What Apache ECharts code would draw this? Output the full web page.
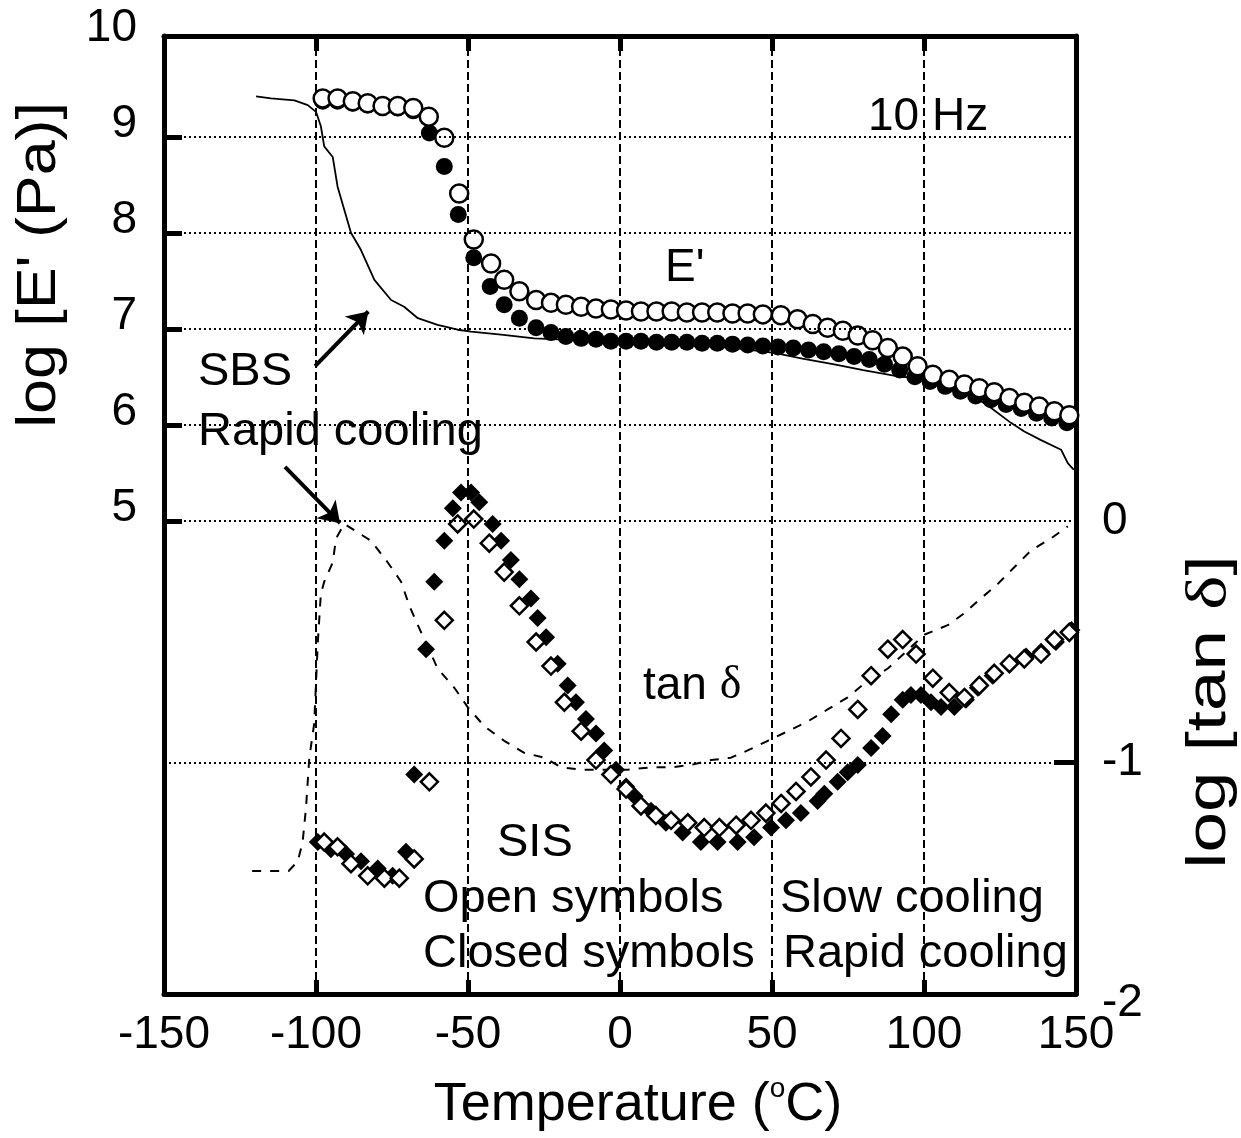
<!DOCTYPE html>
<html><head><meta charset="utf-8">
<script src="https://cdn.jsdelivr.net/npm/echarts@6/dist/echarts.min.js"></script>
<style>html,body{margin:0;padding:0;background:#fff}#c{width:1241px;height:1138px}</style>
</head><body><div id="c"></div>
<script>
const FONT = '"Liberation Sans", Arial, Helvetica, sans-serif';
const SERIF = '"Liberation Serif", "Times New Roman", serif';

// ---------- data (temperature in °C) ----------
// SIS slow cooling, log E' (open circles)
const eSlowT = [-97.8,-92.9,-87.9,-83.0,-78.1,-73.1,-68.0,-62.9,-57.8,-52.9,-48.1,-42.4,-38.1,-33.1,-27.6,-22.7,-17.8,-12.8,-7.9,-3.0,2.0,6.9,12,17,22,27,32,37,42,47,52.9,58.4,63.4,68.3,73.3,78.2,83.1,88.1,93.0,97.9,102.9,108.3,113.3,118.2,123.1,128.1,133.0,137.9,142.9,147.8];
const eSlowV = [9.40,9.40,9.37,9.35,9.32,9.32,9.30,9.21,8.99,8.41,7.93,7.68,7.51,7.39,7.30,7.27,7.25,7.23,7.21,7.20,7.19,7.18,7.18,7.18,7.17,7.17,7.17,7.16,7.16,7.15,7.14,7.10,7.05,7.01,6.98,6.93,6.88,6.80,6.71,6.61,6.52,6.47,6.42,6.38,6.34,6.28,6.23,6.19,6.14,6.10];
// SIS rapid cooling, log E' (closed circles)
const eRapidT = [-97.8,-92.9,-87.9,-83.0,-78.1,-73.1,-68.0,-62.7,-57.8,-53.2,-48.1,-42.7,-38.1,-33.1,-27.6,-22.7,-17.8,-12.8,-7.9,-3.0,2.0,6.9,12,17,22,27,32,37,42,47,52,57,62,67,72,77,82,87,92,97,102,107,112,117,122,127,132,137,142,147];
const eRapidV = [9.37,9.37,9.35,9.33,9.31,9.30,9.27,9.04,8.69,8.19,7.74,7.44,7.25,7.11,7.01,6.96,6.92,6.90,6.89,6.87,6.87,6.87,6.86,6.86,6.86,6.85,6.85,6.84,6.83,6.82,6.81,6.80,6.78,6.76,6.74,6.71,6.68,6.63,6.57,6.50,6.45,6.40,6.35,6.30,6.26,6.21,6.17,6.12,6.07,6.02];
// SBS rapid cooling, log E' (solid line)
const sbsET = [-119.7,-114.8,-107.1,-102.7,-100.0,-98.4,-97.3,-94.5,-92.9,-90.7,-88.5,-85.2,-80.8,-75.3,-71.0,-66.5,-60.0,-53.4,-49.0,-39.1,-28.2,-20,-10,0,10,20,30,40,50.8,60,70.5,80,92.4,100.1,107,114.4,121,128.6,133,138.5,145.1,147.3,149.3];
const sbsEV = [9.42,9.40,9.38,9.33,9.26,9.11,8.90,8.79,8.48,8.24,8.00,7.82,7.51,7.30,7.23,7.11,7.04,6.99,6.97,6.94,6.90,6.89,6.88,6.87,6.86,6.84,6.82,6.79,6.75,6.69,6.63,6.57,6.50,6.48,6.40,6.33,6.20,6.02,5.93,5.84,5.74,5.60,5.53];
// SIS slow cooling, log tan δ (open diamonds)
const tanSlowT = [-97.3,-92.9,-88.5,-83.0,-77.5,-72.6,-67.7,-62.7,-57.8,-53.4,-48.1,-43.0,-38.1,-33.1,-27.6,-22.7,-18.3,-12.8,-7.9,-3.0,2.0,6.9,11.8,16.8,22.3,27.7,32.7,38.2,43.1,48.0,53.0,57.9,62.8,67.8,72.7,78.2,82.6,88.1,93.0,97.4,102.9,108.3,113.3,118.2,123.1,128.1,133.0,138.5,142.9,147.8];
const tanSlowV = [-1.33,-1.35,-1.42,-1.47,-1.48,-1.48,-1.40,-1.08,-0.41,-0.01,0.01,-0.09,-0.21,-0.35,-0.50,-0.60,-0.75,-0.87,-0.99,-1.05,-1.11,-1.18,-1.22,-1.24,-1.25,-1.27,-1.27,-1.26,-1.24,-1.21,-1.17,-1.12,-1.06,-0.99,-0.90,-0.78,-0.64,-0.53,-0.49,-0.55,-0.65,-0.71,-0.73,-0.68,-0.63,-0.59,-0.57,-0.55,-0.49,-0.46];
// SIS rapid cooling, log tan δ (closed diamonds)
const tanRapidT = [-99.4,-95.1,-90.1,-85.2,-79.7,-74.8,-70.4,-67.7,-63.8,-61.1,-57.8,-55.0,-52.3,-49.0,-46.3,-41.9,-39.1,-35.9,-33.1,-29.3,-27.1,-24.3,-20.5,-17.2,-14.5,-11.2,-7.9,-5.2,-1.3,2.0,4.8,10.2,15.1,20.6,26.6,32.1,38.7,44.1,49.7,54.6,59.5,65.0,67.2,71.6,74.9,78.2,82.6,86.4,89.2,93.0,95.7,99.0,102.3,105.6,110.0,113.8,117.7,122.6,128.1,133.6,138.5,143.4,148.5];
const tanRapidV = [-1.33,-1.36,-1.38,-1.41,-1.44,-1.47,-1.37,-1.05,-0.53,-0.25,-0.08,0.055,0.12,0.12,0.08,-0.01,-0.08,-0.16,-0.24,-0.32,-0.40,-0.48,-0.59,-0.68,-0.75,-0.82,-0.88,-0.95,-1.03,-1.10,-1.14,-1.20,-1.25,-1.29,-1.33,-1.33,-1.33,-1.31,-1.27,-1.24,-1.21,-1.16,-1.13,-1.08,-1.04,-1.01,-0.94,-0.89,-0.80,-0.74,-0.72,-0.72,-0.75,-0.77,-0.77,-0.74,-0.69,-0.64,-0.59,-0.56,-0.54,-0.50,-0.45];
// SBS rapid cooling, log tan δ (dashed line)
const sbsTanT = [-121,-109,-106,-104.4,-103.3,-102.2,-100.6,-99.4,-98.4,-97.3,-94.5,-93.4,-90.7,-81.9,-76.4,-72.0,-69.3,-66.5,-60.0,-54.5,-50.1,-44.6,-38.1,-31.5,-24.9,-19.4,-12.8,-7.3,2.5,10.2,16.8,23.4,30.0,36.5,42.0,48.6,55.2,61.7,68.3,74.9,81.5,88.1,100.1,107.8,113.3,117.7,124.2,129.7,135.2,141.8,147.3];
const sbsTanV = [-1.45,-1.45,-1.41,-1.33,-1.19,-0.98,-0.84,-0.50,-0.30,-0.25,-0.17,-0.07,-0.01,-0.08,-0.17,-0.25,-0.35,-0.43,-0.61,-0.69,-0.77,-0.85,-0.91,-0.96,-0.98,-1.02,-1.03,-1.03,-1.03,-1.02,-1.02,-1.01,-0.99,-0.98,-0.95,-0.91,-0.87,-0.83,-0.78,-0.73,-0.66,-0.61,-0.47,-0.43,-0.38,-0.33,-0.26,-0.19,-0.12,-0.07,-0.02];

// axes / gridlines / annotation arrows (data units)
const xTicks = [-150,-100,-50,0,50,100,150];
const eTickValues = [5,6,7,8,9];
const eLabelValues = [5,6,7,8,9,10];
const tanTickValues = [-1];
const tanLabelValues = [-2,-1,0];
const eGridValues = [5,6,7,8,9];
const tanGridValues = [-1];
const sbsArrowE = [[-100.3,6.61],[-82.8,7.18]];
const sbsArrowTan = [[-110.2,0.227],[-92.1,-0.007]];

function pairs(xs, ys){ return xs.map((x,i)=>[x, ys[i]]); }

const chart = echarts.init(document.getElementById('c'), null, {renderer:'canvas'});
const black = '#000';
const frameLine = {show:true, onZero:false, lineStyle:{color:black, width:5}};
const option = {
  animation:false,
  backgroundColor:'#fff',
  textStyle:{fontFamily:FONT, color:black},
  grid:[
    {left:164, top:36, width:912, height:958, containLabel:false, outerBoundsMode:'none'},
    {left:164, top:39.5, width:912, height:964, containLabel:false, outerBoundsMode:'none'}
  ],
  xAxis:[
    {gridIndex:0, type:'value', position:'bottom', min:xTicks[0], max:xTicks[xTicks.length-1], interval:50,
     axisLine:frameLine,
     axisTick:{show:true, inside:true, length:14, lineStyle:{color:black, width:5}},
     axisLabel:{show:true, fontSize:46, color:black, margin:18, fontFamily:FONT},
     splitLine:{show:true, showMinLine:false, showMaxLine:false, lineStyle:{color:black, width:2, type:[8,4]}}},
    {gridIndex:0, type:'value', position:'top', min:-150, max:150, interval:50,
     axisLine:frameLine,
     axisTick:{show:true, inside:true, length:15, lineStyle:{color:black, width:5}},
     axisLabel:{show:false}, splitLine:{show:false}},
    {gridIndex:1, type:'value', min:-150, max:150, show:false}
  ],
  yAxis:[
    {gridIndex:0, type:'value', position:'left', min:0.07, max:10.05,
     axisLine:frameLine,
     axisTick:{show:true, inside:true, length:18, customValues:eTickValues, lineStyle:{color:black, width:5}},
     axisLabel:{show:true, customValues:eLabelValues, fontSize:46, color:black, margin:27, verticalAlign:'bottom', lineHeight:24, fontFamily:FONT},
     splitLine:{show:false}},
    {gridIndex:0, type:'value', position:'right', min:0.07, max:10.05,
     axisLine:frameLine, axisTick:{show:false}, axisLabel:{show:false}, splitLine:{show:false}},
    {gridIndex:1, type:'value', position:'right', min:-2, max:2, interval:1,
     axisLine:{show:false, onZero:false},
     axisTick:{show:true, inside:true, length:22, customValues:tanTickValues, lineStyle:{color:black, width:5}},
     axisLabel:{show:true, customValues:tanLabelValues, fontSize:46, color:black, margin:26, fontFamily:FONT},
     splitLine:{show:false}}
  ],
  series:[
    {name:'SBS E\'', type:'line', xAxisIndex:0, yAxisIndex:0, data:pairs(sbsET, sbsEV),
     symbol:'none', showSymbol:false, lineStyle:{color:black, width:1.8}, z:2,
     markLine:{silent:true, symbol:'none', label:{show:false},
       lineStyle:{color:black, width:2, type:[2,3]},
       data:eGridValues.map(v=>({yAxis:v}))}},
    {name:'SIS rapid E\'', type:'scatter', xAxisIndex:0, yAxisIndex:0, data:pairs(eRapidT, eRapidV),
     symbol:'circle', symbolSize:17, itemStyle:{color:black, opacity:1}, z:3,
     markLine:{silent:true, symbol:['none','arrow'], symbolSize:20, label:{show:false},
       lineStyle:{color:black, width:4, type:'solid', opacity:1},
       data:[[{coord:sbsArrowE[0]},{coord:sbsArrowE[1]}]]}},
    {name:'SIS slow E\'', type:'scatter', xAxisIndex:0, yAxisIndex:0, data:pairs(eSlowT, eSlowV),
     symbol:'circle', symbolSize:18, itemStyle:{color:'#fff', borderColor:black, borderWidth:2.5, opacity:1}, z:4},
    {name:'SBS tan', type:'line', xAxisIndex:2, yAxisIndex:2, data:pairs(sbsTanT, sbsTanV),
     symbol:'none', showSymbol:false, lineStyle:{color:black, width:2, type:[9,9]}, z:2,
     markLine:{silent:true, symbol:'none', label:{show:false},
       lineStyle:{color:black, width:2, type:[2,3]},
       data:tanGridValues.map(v=>({yAxis:v}))}},
    {name:'SIS rapid tan', type:'scatter', xAxisIndex:2, yAxisIndex:2, data:pairs(tanRapidT, tanRapidV),
     symbol:'diamond', symbolSize:18, itemStyle:{color:black, opacity:1}, z:3,
     markLine:{silent:true, symbol:['none','arrow'], symbolSize:20, label:{show:false},
       lineStyle:{color:black, width:4, type:'solid', opacity:1},
       data:[[{coord:sbsArrowTan[0]},{coord:sbsArrowTan[1]}]]}},
    {name:'SIS slow tan', type:'scatter', xAxisIndex:2, yAxisIndex:2, data:pairs(tanSlowT, tanSlowV),
     symbol:'diamond', symbolSize:17, itemStyle:{color:'#fff', borderColor:black, borderWidth:2.5, opacity:1}, z:4}
  ],
  graphic:[
    {type:'text', x:40, y:265, rotation:Math.PI/2, scaleX:1.12, style:{text:"log [E' (Pa)]", font:'56px '+FONT, fill:black, align:'center', verticalAlign:'middle'}},
    {type:'text', x:1210, y:712, rotation:Math.PI/2, scaleX:1.3, style:{text:'{a|log [tan }{d|δ}{a|]}', fill:black, align:'center', verticalAlign:'middle',
      rich:{a:{fontSize:56, fontFamily:FONT, fill:black}, d:{fontSize:56, fontFamily:SERIF, fill:black}}}},
    {type:'text', x:638, y:1105, style:{text:'{n|Temperature (}{s|o}{n|C)}', fill:black, align:'center', verticalAlign:'middle',
      rich:{n:{fontSize:54, fontFamily:FONT, fill:black, lineHeight:60}, s:{fontSize:28, fontFamily:FONT, fill:black, verticalAlign:'top', lineHeight:28}}}},
    {type:'text', x:868, y:117, style:{text:'10 Hz', font:'46px '+FONT, fill:black, verticalAlign:'middle'}},
    {type:'text', x:665, y:268, style:{text:"E'", font:'46px '+FONT, fill:black, verticalAlign:'middle'}},
    {type:'text', x:198, y:372, style:{text:'SBS', font:'47px '+FONT, fill:black, verticalAlign:'middle'}},
    {type:'text', x:198, y:432, style:{text:'Rapid cooling', font:'47px '+FONT, fill:black, verticalAlign:'middle'}},
    {type:'text', x:643, y:686, style:{text:'{a|tan }{d|δ}', fill:black, verticalAlign:'middle',
      rich:{a:{fontSize:46, fontFamily:FONT, fill:black}, d:{fontSize:46, fontFamily:SERIF, fill:black}}}},
    {type:'text', x:497, y:843, style:{text:'SIS', font:'47px '+FONT, fill:black, verticalAlign:'middle'}},
    {type:'text', x:423, y:899, style:{text:'Open symbols', font:'47px '+FONT, fill:black, verticalAlign:'middle'}},
    {type:'text', x:423, y:954, style:{text:'Closed symbols', font:'47px '+FONT, fill:black, verticalAlign:'middle'}},
    {type:'text', x:780, y:899, style:{text:'Slow cooling', font:'47px '+FONT, fill:black, verticalAlign:'middle'}},
    {type:'text', x:783, y:954, style:{text:'Rapid cooling', font:'47px '+FONT, fill:black, verticalAlign:'middle'}}
  ]
};
chart.setOption(option);
</script>
</body></html>
